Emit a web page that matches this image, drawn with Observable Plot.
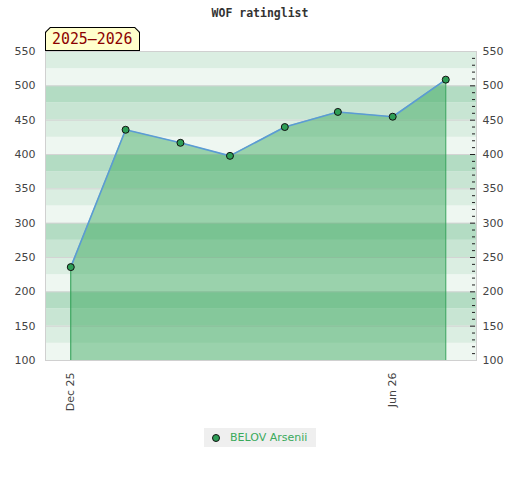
<!DOCTYPE html>
<html><head><meta charset="utf-8">
<script src="https://cdn.jsdelivr.net/npm/d3@7"></script>
<script src="https://cdn.jsdelivr.net/npm/@observablehq/plot@0.6"></script>
<style>
body{margin:0;background:#fff;}
#wrap{position:relative;width:520px;height:480px;overflow:hidden;}
#chart{position:absolute;left:0;top:0;}
#title{position:absolute;top:6px;left:0;width:520px;text-align:center;font:bold 11.5px "DejaVu Sans Mono",monospace;color:#333;line-height:14px;}
#season{position:absolute;left:45px;top:27px;width:95px;height:24px;background:#000;clip-path:polygon(5px 0,calc(100% - 5px) 0,100% 5px,100% 100%,0 100%,0 5px);}
#season .in{position:absolute;left:1px;top:1px;right:1px;bottom:1px;background:#ffffcc;clip-path:polygon(4.5px 0,calc(100% - 4.5px) 0,100% 4.5px,100% 100%,0 100%,0 4.5px);}
#season .txt{position:absolute;left:6px;top:0;font:16.5px "DejaVu Sans Mono",monospace;color:#8b0000;line-height:22px;transform:scaleX(0.9);transform-origin:left center;white-space:nowrap;}
#legend{position:absolute;left:204px;top:428px;width:112px;height:19px;background:#efefef;font:11px "DejaVu Sans",sans-serif;color:#3aaa5c;}
#legend .dot{position:absolute;left:8px;top:6px;width:6px;height:6px;border:1px solid #111;border-radius:50%;background:#2e9e57;}
#legend .lbl{position:absolute;left:26px;top:0;line-height:19px;white-space:nowrap;}
</style>
</head><body>
<div id="wrap">
  <div id="chart"></div>
  <div id="title"></div>
  <div id="season"><div class="in"><div class="txt"></div></div></div>
  <div id="legend"><span class="dot"></span><span class="lbl"></span></div>
</div>
<script>
const chartTitle = "WOF ratinglist";
const seasonLabel = "2025–2026";
const seriesName = "BELOV Arsenii";
const months = ["2025-12-01","2026-01-01","2026-02-01","2026-03-01","2026-04-01","2026-05-01","2026-06-01","2026-07-01"];
const ratings = [236, 436, 417, 398, 440, 462, 455, 509];
const xTickDates = ["2025-12-01","2026-06-01"];
const yTicks = [100,150,200,250,300,350,400,450,500,550];
const minorTicks = [110,120,130,140,160,170,180,190,210,220,230,240,260,270,280,290,310,320,330,340,360,370,380,390,410,420,430,440,460,470,480,490,510,520,530,540];
const bandStarts = [100,125,150,175,200,225,250,275,300,325,350,375,400,425,450,475,500,525];
const bandShades = ["#eef7f1","#dbeee2","#c8e5d3","#b3dcc3"];

const data = months.map((m, i) => ({date: new Date(m + "T00:00:00Z"), rating: ratings[i]}));
const xTicks = xTickDates.map(d => new Date(d + "T00:00:00Z"));
const bands = bandStarts.map((b, i) => ({y1: b, y2: b + 25, shade: bandShades[i % 4]}));
const ends = [data[0], data[data.length - 1]];

const chart = Plot.plot({
  width: 520,
  height: 480,
  marginTop: 51,
  marginBottom: 120,
  marginLeft: 45,
  marginRight: 44,
  style: {fontFamily: "DejaVu Sans, sans-serif", fontSize: "11px", color: "#444", background: "transparent", overflow: "visible"},
  x: {type: "utc", domain: [new Date("2025-11-16T17:00:00Z"), new Date("2026-07-18T09:00:00Z")]},
  y: {domain: [100, 550]},
  color: {type: "identity"},
  marks: [
    Plot.rect(bands, {y1: "y1", y2: "y2", fill: "shade"}),
    Plot.ruleY(yTicks, {stroke: "#d4d4d4"}),
    Plot.areaY(data, {x: "date", y1: 100, y2: "rating", fill: "#2fa554", fillOpacity: 0.44}),
    Plot.ruleX(ends, {x: "date", y1: 100, y2: "rating", stroke: "#2f9e55"}),
    Plot.line(data, {x: "date", y: "rating", stroke: "#5b9bd5", strokeWidth: 1.6}),
    Plot.dot(data, {x: "date", y: "rating", r: 3.5, fill: "#2e9e57", stroke: "#111", strokeWidth: 1}),
    Plot.ruleY(minorTicks, {stroke: "#222", insetLeft: 427, insetRight: 1}),
    Plot.ruleY(yTicks, {stroke: "#222", insetLeft: 425, insetRight: 1}),
    Plot.frame({stroke: "#d0d0d0"}),
    Plot.axisY({anchor: "left", ticks: yTicks, tickSize: 0, tickPadding: 10, label: null, tickFormat: d => d}),
    Plot.axisY({anchor: "right", ticks: yTicks, tickSize: 0, tickPadding: 6, label: null, tickFormat: d => d}),
    Plot.axisX({ticks: xTicks, tickFormat: d3.utcFormat("%b %y"), tickRotate: -90, tickSize: 0, tickPadding: 12, label: null})
  ]
});
document.getElementById("chart").appendChild(chart);
document.getElementById("title").textContent = chartTitle;
document.querySelector("#season .txt").textContent = seasonLabel;
document.querySelector("#legend .lbl").textContent = seriesName;
</script>
</body></html>
